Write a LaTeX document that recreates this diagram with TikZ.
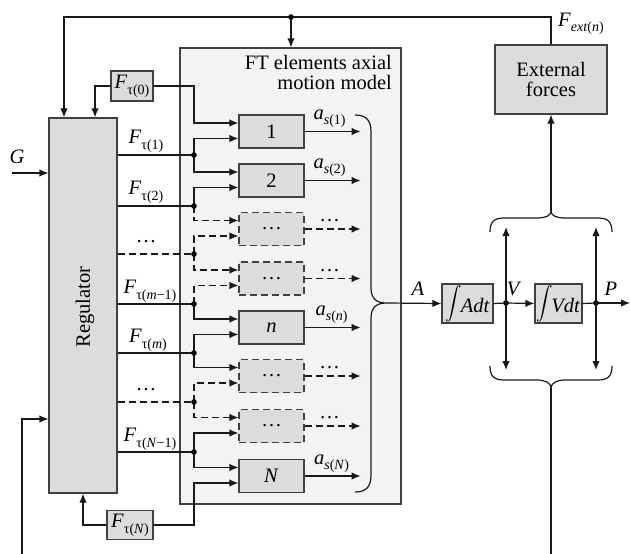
\documentclass[tikz,border=0pt]{standalone}
\usepackage{fontspec}
\usepackage{graphicx}
\setmainfont{Liberation Serif}
\usetikzlibrary{arrows.meta}
\definecolor{boxgray}{RGB}{220,220,220}
\definecolor{ftgray}{RGB}{242,243,245}
\newcommand\Ftau[1]{\textit{F}\raisebox{-6pt}{\fontsize{14}{14}\selectfont τ(#1)}}
\newcommand\asub[1]{\textit{a}\raisebox{-5pt}{\fontsize{14}{14}\selectfont\textit{s}(#1)}}
\tikzset{
 ln/.style={line width=1.2pt, draw=black!90},
 arr/.style={ln, -{Latex[length=9pt,width=7.5pt]}},
 dsh/.style={dash pattern=on 7pt off 4pt},
 gbox/.style={draw=black!75, line width=1.2pt, fill=boxgray, minimum width=65pt, minimum height=33pt, inner sep=0pt},
 dbox/.style={gbox, dsh},
 lbl/.style={inner sep=1pt},
}
\begin{document}
\begin{tikzpicture}[x=1pt,y=-1pt, font=\fontsize{20.5}{20}\selectfont]
\useasboundingbox (0,0) rectangle (630,554);
% FT container
\node[draw=black!75, line width=1.2pt, fill=ftgray, minimum width=221pt, minimum height=456pt, inner sep=0pt] (ft) at (290.5,276) {};
\node[align=right, anchor=north east, inner sep=0pt] (fttitle) at (392,55) {FT elements axial\\motion model};
% regulator
\node[gbox, minimum width=68pt, minimum height=375pt] (reg) at (83,305.5) {};
\node[rotate=90] (regtxt) at (85,307) {Regulator};
% element boxes
\node[gbox] (b1) at (271.5,131.5) {1};
\node[gbox] (b2) at (271.5,180.5) {2};
\node[dbox] (e1) at (271.5,229) {…};
\node[dbox] (e2) at (271.5,278.5) {…};
\node[gbox] (bn) at (271.5,327.5) {\textit{n}};
\node[dbox] (e3) at (271.5,376) {…};
\node[dbox] (e4) at (271.5,426) {…};
\node[gbox] (bN) at (271.5,476) {\textit{N}};
% F tau 0 and N boxes
\node[gbox, minimum width=42pt, minimum height=30pt] (f0) at (132,86) {\Ftau{0}};
\node[gbox, minimum width=46pt, minimum height=29pt] (fN) at (130,525) {\Ftau{\textit{N}}};
% integrators and external forces
\node[gbox, minimum width=51pt, minimum height=39pt] (ia) at (467.5,303.5) {\scalebox{1.65}{$\displaystyle\int$}\kern-1pt\textit{Adt}};
\node[gbox, minimum width=47pt, minimum height=39pt] (iv) at (558.5,303.5) {\scalebox{1.65}{$\displaystyle\int$}\kern-2pt\textit{Vdt}};
\node[gbox, minimum width=112pt, minimum height=69pt, align=center] (ext) at (551,79.5) {External\\forces};
% coordinates
\coordinate (d1) at (194,155);
\coordinate (d2) at (194,206);
\coordinate (d3) at (194,254);
\coordinate (d4) at (194,304);
\coordinate (d5) at (194,353);
\coordinate (d6) at (194,402);
\coordinate (d7) at (194,452);
\coordinate (tl) at (64,17);
\coordinate (tdot) at (291,17);
\coordinate (gin) at (12,173);
\coordinate (bl) at (22,554);
\coordinate (tipA) at (386,303);
\coordinate (vdot) at (506,303);
\coordinate (pdot) at (596,303);
\coordinate (pend) at (630,303);
\coordinate (tipU) at (551,211);
\coordinate (tipD) at (551,388);
\coordinate (bend) at (551,554);
% top feedback
\draw[arr] (ext.north) |- (tl) -- (tl |- reg.north);
\draw[arr] (tdot) -- (tdot |- ft.north);
\fill (tdot) circle (2.8);
\node[lbl] (fext) at (581,24) {\textit{F}\raisebox{-5pt}{\fontsize{14}{14}\selectfont\textit{ext}(\textit{n})}};
% G input
\draw[arr] (gin) -- (gin -| reg.west);
\node[lbl] (glbl) at (17,157) {\textit{G}};
% bottom feedback
\draw[arr] (bl) |- ([yshift=-113.5pt]reg.west);
% F tau 0
\draw[arr] (f0.west) -| ([xshift=12pt]reg.north);
\draw[arr] (f0.east) -- (f0.east -| d1) |- ([yshift=8.5pt]b1.west);
% F tau N
\draw[arr] (fN.west) -| (reg.south);
\draw[arr] (fN.east) -- (fN.east -| d1) |- ([yshift=-7pt]bN.west);
% regulator output lines
\draw[ln] (reg.east |- d1) -- (d1);
\draw[ln] (reg.east |- d2) -- (d2);
\draw[ln, dsh] (reg.east |- d3) -- (d3);
\draw[ln] (reg.east |- d4) -- (d4);
\draw[ln] (reg.east |- d5) -- (d5);
\draw[ln, dsh] (reg.east |- d6) -- (d6);
\draw[ln] (reg.east |- d7) -- (d7);
\node[lbl] (l1) at (146,141) {\Ftau{1}};
\node[lbl] (l2) at (146,192) {\Ftau{2}};
\node[lbl] (l3) at (146,242) {…};
\node[lbl] (l4) at (150,291) {\Ftau{\textit{m}−1}};
\node[lbl] (l5) at (148,340) {\Ftau{\textit{m}}};
\node[lbl] (l6) at (146,390) {…};
\node[lbl] (l7) at (150,439) {\Ftau{\textit{N}−1}};
% branches
\draw[arr] (d1) |- ([yshift=-7pt]b1.west);
\draw[arr] (d1) |- ([yshift=8.5pt]b2.west);
\draw[arr] (d2) |- ([yshift=-7pt]b2.west);
\draw[arr, dsh] (d2) |- ([yshift=8.5pt]e1.west);
\draw[arr, dsh] (d3) |- ([yshift=-7pt]e1.west);
\draw[arr, dsh] (d3) |- ([yshift=8.5pt]e2.west);
\draw[arr, dsh] (d4) |- ([yshift=-7pt]e2.west);
\draw[arr] (d4) |- ([yshift=8.5pt]bn.west);
\draw[arr] (d5) |- ([yshift=-7pt]bn.west);
\draw[arr] (d5) |- ([yshift=8.5pt]e3.west);
\draw[arr, dsh] (d6) |- ([yshift=-7pt]e3.west);
\draw[arr, dsh] (d6) |- ([yshift=8.5pt]e4.west);
\draw[arr] (d7) |- ([yshift=-7pt]e4.west);
\draw[arr] (d7) |- ([yshift=8.5pt]bN.west);
\foreach \d in {d1,d2,d3,d4,d5,d6,d7} \fill (\d) circle (2.8);
% outputs
\draw[arr] (b1.east) -- node[above=0pt, xshift=-3pt]{\asub{1}} ++(56,0);
\draw[arr] (b2.east) -- node[above=0pt, xshift=-3pt]{\asub{2}} ++(56,0);
\draw[arr, dsh] (e1.east) -- node[above=3pt, xshift=-3pt]{…} ++(56,0);
\draw[arr, dsh] (e2.east) -- node[above=3pt, xshift=-3pt]{…} ++(56,0);
\draw[arr] (bn.east) -- node[above=0pt, xshift=-1pt]{\asub{\textit{n}}} ++(56,0);
\draw[arr, dsh] (e3.east) -- node[above=3pt, xshift=-3pt]{…} ++(56,0);
\draw[arr, dsh] (e4.east) -- node[above=3pt, xshift=-3pt]{…} ++(56,0);
\draw[arr] (bN.east) -- node[above=0pt, xshift=-1pt]{\asub{\textit{N}}} ++(56,0);
% big brace
\draw[ln] (355,115) .. controls (366,115) and (371,120) .. (371,132) -- (371,288)
  .. controls (371,298) and (376,303) .. (tipA)
  .. controls (376,303) and (371,308) .. (371,318) -- (371,475)
  .. controls (371,487) and (366,492) .. (355,492);
% A, V, P chain
\draw[arr] (tipA) -- (ia.west);
\node[lbl] (albl) at (418,289) {\textit{A}};
\draw[ln] (ia.east) -- (vdot);
\draw[arr] (vdot) -- (iv.west);
\node[lbl] (vlbl) at (514,289) {\textit{V}};
\draw[ln] (iv.east) -- (pdot);
\draw[arr] (pdot) -- (pend);
\node[lbl] (plbl) at (611,289) {\textit{P}};
\fill (vdot) circle (2.8);
\fill (pdot) circle (2.8);
% vertical branches
\draw[arr] (vdot) -- ++(0,-76);
\draw[arr] (pdot) -- ++(0,-76);
\draw[arr] (vdot) -- ++(0,67);
\draw[arr] (pdot) -- ++(0,67);
% upper brace
\draw[ln] (490,232) .. controls (490,222) and (494,218) .. (504,218) -- (537,218)
  .. controls (545,218) and (551,216) .. (tipU)
  .. controls (551,216) and (557,218) .. (565,218) -- (598,218)
  .. controls (608,218) and (612,222) .. (612,232);
\draw[arr] (tipU) -- (ext.south);
% lower brace
\draw[ln] (490,366) .. controls (490,376) and (494,380) .. (504,380) -- (537,380)
  .. controls (545,380) and (551,383) .. (tipD)
  .. controls (551,383) and (557,380) .. (565,380) -- (598,380)
  .. controls (608,380) and (612,376) .. (612,366);
\draw[ln] (tipD) -- (bend);
\end{tikzpicture}
\end{document}
